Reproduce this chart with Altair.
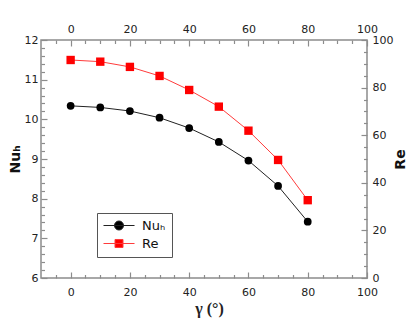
import altair as alt
import pandas as pd

# ---- data ----
gamma = [0, 10, 20, 30, 40, 50, 60, 70, 80]
nu_h = [10.34, 10.30, 10.21, 10.04, 9.78, 9.43, 8.96, 8.32, 7.42]
re = [91.6, 90.9, 88.7, 84.9, 79.0, 72.0, 61.9, 49.6, 32.7]
series = ["Nuₕ", "Re"]

x_major = [0, 20, 40, 60, 80, 100]
x_minor = [-5, 5, 10, 15, 25, 30, 35, 45, 50, 55, 65, 70, 75, 85, 90, 95]
yl_major = [6, 7, 8, 9, 10, 11, 12]
yl_minor = [6.2, 6.4, 6.6, 6.8, 7.2, 7.4, 7.6, 7.8, 8.2, 8.4, 8.6, 8.8,
            9.2, 9.4, 9.6, 9.8, 10.2, 10.4, 10.6, 10.8, 11.2, 11.4, 11.6, 11.8]
yr_major = [0, 20, 40, 60, 80, 100]
yr_minor = [5, 10, 15, 25, 30, 35, 45, 50, 55, 65, 70, 75, 85, 90, 95]

df = pd.DataFrame({"gamma": gamma, "nu": nu_h, "re": re})
leg = pd.DataFrame({"series": series})

FONT = "DejaVu Sans"
GRAY = "#8c8c8c"
RED = "#ff0000"
RED_LINE = "#ff3b3b"

xs = alt.Scale(domain=[-10, 100], nice=False, zero=False)
yls = alt.Scale(domain=[6, 12], nice=False, zero=False)
yrs = alt.Scale(domain=[0, 100], nice=False, zero=False)


def ax(orient, values, major, pad=5, **kw):
    size = 6 if major else 3.5
    d = dict(orient=orient, values=values, tickSize=size, offset=-size,
             labels=major, domain=False, grid=False, tickColor=GRAY,
             tickWidth=1.2, labelPadding=pad, labelFont=FONT,
             labelFontSize=11, labelColor="#222", labelFlush=False,
             labelOverlap=False)
    d.update(kw)
    if "title" not in d:
        d["title"] = ""
    return alt.Axis(**d)


nu_line = alt.Chart(df).mark_line(color="#222", strokeWidth=1).encode(
    x=alt.X("gamma:Q", scale=xs,
            axis=ax("bottom", x_major, True, pad=8, title="γ (°)",
                    titleFont="Liberation Serif", titleFontSize=16,
                    titleFontWeight="bold", titleColor="#222", titlePadding=3,
                    titleX=168)),
    y=alt.Y("nu:Q", scale=yls,
            axis=ax("left", yl_major, True, pad=3, title="Nuₕ",
                    titleFont=FONT, titleFontSize=14, titleFontWeight="bold",
                    titleColor="#111", titlePadding=2)),
)
nu_pts = alt.Chart(df).mark_point(filled=True, shape="circle", size=60,
                                  color="black", opacity=1).encode(
    x=alt.X("gamma:Q", scale=xs, axis=ax("bottom", x_minor, False)),
    y=alt.Y("nu:Q", scale=yls, axis=ax("left", yl_minor, False)),
)
re_line = alt.Chart(df).mark_line(color=RED_LINE, strokeWidth=1).encode(
    x=alt.X("gamma:Q", scale=xs, axis=ax("top", x_major, True, pad=6)),
    y=alt.Y("re:Q", scale=yrs,
            axis=ax("right", yr_major, True, pad=5, title="Re",
                    titleFont=FONT, titleFontSize=14, titleFontWeight="bold",
                    titleColor="#111", titlePadding=1, titleAngle=270,
                    titleBaseline="top")),
)
re_pts = alt.Chart(df).mark_point(filled=True, shape="square", size=70,
                                  color=RED, opacity=1).encode(
    x=alt.X("gamma:Q", scale=xs, axis=ax("top", x_minor, False)),
    y=alt.Y("re:Q", scale=yrs, axis=ax("right", yr_minor, False)),
)

# legend symbols: a short line with the marker on it (1 unit = 6 px)
circle_path = ("M-1,0 L4.17,0 M2.333,0 A0.75,0.75 0 1,1 0.833,0 "
               "A0.75,0.75 0 1,1 2.333,0 Z")
square_path = ("M-1,0 L4.17,0 M0.917,-0.667 L2.25,-0.667 L2.25,0.667 "
               "L0.917,0.667 Z")

legend = alt.Legend(title=None, orient="none", legendX=56, legendY=173,
                    strokeColor="#555", padding=6, rowPadding=4,
                    symbolSize=144, symbolStrokeWidth=1, symbolOpacity=1,
                    labelFont=FONT, labelFontSize=13, labelColor="#111",
                    labelOffset=26, fillColor="white")
leg_layer = alt.Chart(leg).mark_point(filled=True, opacity=0, strokeWidth=1).encode(
    shape=alt.Shape("series:N", scale=alt.Scale(domain=series,
                                                range=[circle_path, square_path]),
                    legend=legend),
    fill=alt.Fill("series:N", scale=alt.Scale(domain=series, range=["black", RED]),
                  legend=legend),
    stroke=alt.Stroke("series:N", scale=alt.Scale(domain=series,
                                                  range=["#222", RED_LINE]),
                      legend=legend),
)

chart = alt.layer(nu_line, nu_pts, re_line, re_pts, leg_layer).resolve_scale(
    x="independent", y="independent"
).resolve_axis(
    x="independent", y="independent"
).properties(
    width=326, height=238,
    autosize=alt.AutoSizeParams(type="none"),
    padding={"left": 33, "top": 32, "right": 40, "bottom": 40},
    background="white",
).configure_view(stroke=GRAY, strokeWidth=1.5)

chart.save("out.html", embed_options={"renderer": "svg", "actions": False})
